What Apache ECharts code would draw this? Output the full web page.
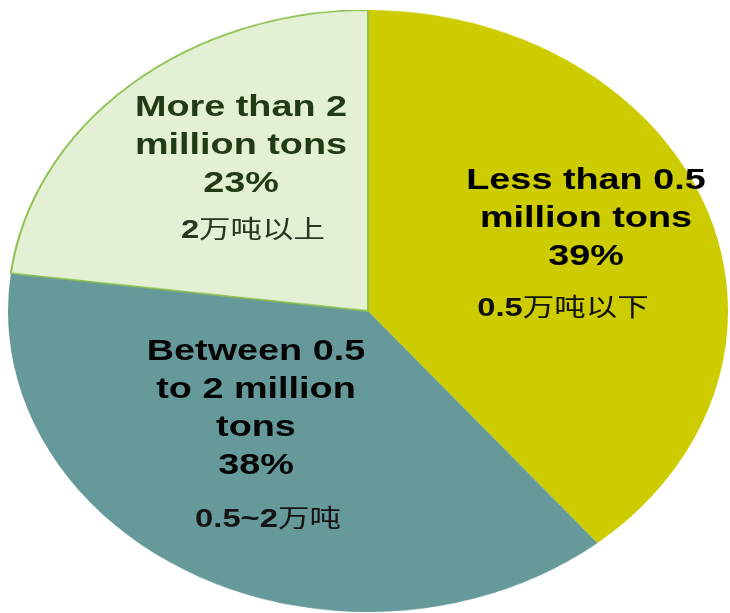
<!DOCTYPE html>
<html>
<head>
<meta charset="utf-8">
<script src="https://cdn.jsdelivr.net/npm/echarts@6/dist/echarts.min.js"></script>
<style>
html,body{margin:0;padding:0;background:#fff;overflow:hidden;width:730px;height:613px;}
#pie{position:absolute;left:8px;top:10px;width:720px;height:720px;transform:scaleY(0.8361);transform-origin:0 0;}
#txt{position:absolute;left:0;top:0;width:730px;height:613px;}
</style>
</head>
<body>
<div id="pie"></div>
<div id="txt"></div>
<script>
// ---- data ----
var categories = ['Less than 0.5\nmillion tons', 'Between 0.5\nto 2 million\ntons', 'More than 2\nmillion tons'];
var values = [39, 38, 23];
var cnLabels = ['0.5万吨以下', '0.5~2万吨', '2万吨以上'];
var colors = ['#CCCC00', '#669999', '#E3F0D3'];

// ---- pie (drawn in a square, stretched into an ellipse) ----
var pie = echarts.init(document.getElementById('pie'), null, {renderer: 'canvas'});
pie.setOption({
  animation: false,
  series: [{
    type: 'pie',
    center: ['50%', '50%'],
    radius: ['0%', '100%'],
    startAngle: 90,
    clockwise: true,
    label: {show: false},
    labelLine: {show: false},
    emphasis: {disabled: true},
    silent: true,
    data: categories.map(function (c, i) {
      return {
        name: c,
        value: values[i],
        itemStyle: {
          color: colors[i],
          borderColor: i === 2 ? '#8DC150' : colors[i],
          borderWidth: i === 2 ? 2 : 0
        }
      };
    })
  }]
});

// ---- labels overlay ----
var txt = echarts.init(document.getElementById('txt'), null, {renderer: 'canvas'});
var FONT = "'Liberation Sans','Noto Sans CJK SC',Arial,sans-serif";
var labelPos = [
  {x: 586, y: 219, cx: 563, cy: 309, fill: '#000000', cfill: '#111111'},
  {x: 256, y: 409, cx: 268, cy: 520, fill: '#050505', cfill: '#151515'},
  {x: 241, y: 146, cx: 253, cy: 231, fill: '#233A16', cfill: '#2A3522'}
];
var SX = 1.26;
var elements = [];
categories.forEach(function (c, i) {
  var p = labelPos[i];
  elements.push({
    type: 'text',
    x: p.x, y: p.y,
    scaleX: SX,
    silent: true,
    style: {
      text: c + '\n' + values[i] + '%',
      fill: p.fill,
      font: 'bold 30px ' + FONT,
      lineHeight: 38,
      align: 'center',
      verticalAlign: 'middle'
    }
  });
  var m = cnLabels[i].match(/^([0-9.~]+)(.*)$/);
  elements.push({
    type: 'text',
    x: p.cx, y: p.cy,
    scaleX: SX,
    silent: true,
    style: {
      text: '{b|' + m[1] + '}{n|' + m[2] + '}',
      align: 'center',
      verticalAlign: 'middle',
      rich: {
        b: {font: 'bold 26px ' + FONT, fill: p.cfill},
        n: {font: 'normal 25px ' + FONT, fill: p.cfill}
      }
    }
  });
});
txt.setOption({animation: false, graphic: {elements: elements}});
</script>
</body>
</html>
